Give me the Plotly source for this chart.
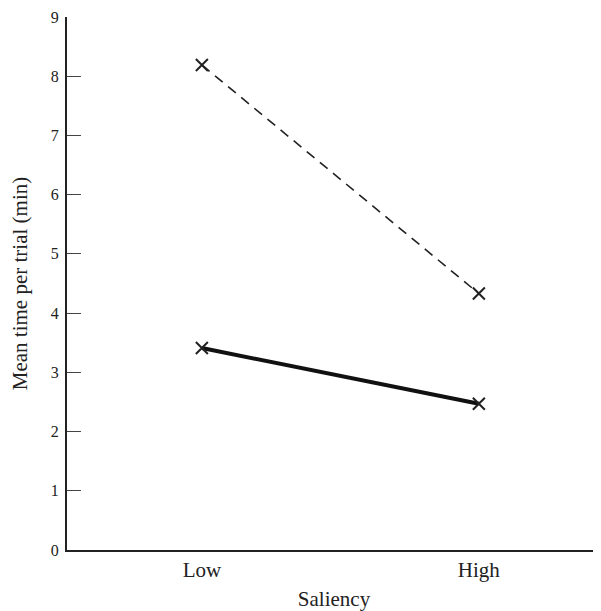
import plotly.graph_objects as go

categories = ["Low", "High"]
x_pos = [0, 1]
dashed_values = [8.19, 4.33]
solid_values = [3.41, 2.47]
y_ticks = [0, 1, 2, 3, 4, 5, 6, 7, 8, 9]

fig = go.Figure()
fig.add_trace(go.Scatter(
    x=x_pos, y=dashed_values, mode="lines+markers",
    line=dict(color="#222", width=1.6, dash="10px,7px"),
    marker=dict(symbol="x-thin", size=12, line=dict(color="#222", width=2)),
    showlegend=False))
fig.add_trace(go.Scatter(
    x=x_pos, y=solid_values, mode="lines+markers",
    line=dict(color="#111", width=4),
    marker=dict(symbol="x-thin", size=12, line=dict(color="#222", width=2)),
    showlegend=False))

serif = "Liberation Serif, Times New Roman, serif"
fig.update_layout(
    width=593, height=603,
    margin=dict(l=59, r=0, t=9, b=61, autoexpand=False),
    paper_bgcolor="white", plot_bgcolor="white",
    font=dict(family=serif, size=19, color="#222"),
    xaxis=dict(range=[-0.487, 1.441], tickvals=x_pos, ticktext=categories,
               tickfont=dict(size=21),
               showline=True, linecolor="#222", linewidth=2, showgrid=False,
               zeroline=False, ticks="", automargin=False,
               title=dict(text="Saliency", standoff=10, font=dict(size=21)),
               ticklabelstandoff=0),
    yaxis=dict(range=[0, 9], tickvals=y_ticks, showline=True, linecolor="#222",
               linewidth=2, showgrid=False, zeroline=False, ticks="inside",
               ticklen=14, tickwidth=1, tickcolor="#444", automargin=False,
               tickfont=dict(size=16), ticklabeloverflow="allow",
               title=dict(text="Mean time per trial (min)", standoff=19,
                          font=dict(size=21)),
               ticklabelstandoff=3),
)
fig.write_html("out.html")
